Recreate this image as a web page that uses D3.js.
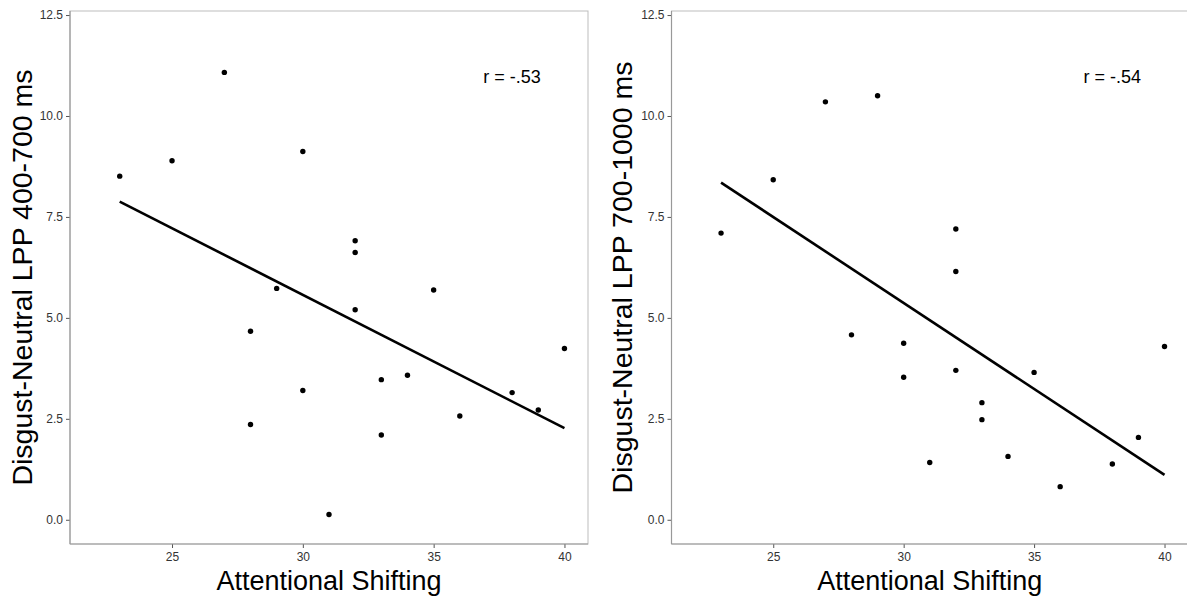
<!DOCTYPE html>
<html><head><meta charset="utf-8">
<script src="https://cdn.jsdelivr.net/npm/d3@7"></script>
<style>
html,body{margin:0;padding:0;background:#fff;}
text{font-family:"Liberation Sans",Arial,sans-serif;}
</style></head>
<body><svg id="chart" width="1187" height="599"></svg>
<script>
// ---- data ----
const xTicks = [25, 30, 35, 40];
const yTicks = [0, 2.5, 5, 7.5, 10, 12.5];
const xTitle = "Attentional Shifting";

const leftX = [23, 25, 27, 30, 29, 32, 32, 35, 32, 28, 28, 30, 33, 34, 33, 31, 36, 38, 39, 40];
const leftY = [8.51, 8.89, 11.08, 9.12, 5.73, 6.91, 6.62, 5.69, 5.20, 4.67, 2.36, 3.20, 3.47, 3.58, 2.10, 0.13, 2.57, 3.15, 2.72, 4.24];
const leftFitX = [23, 40];
const leftFitY = [7.88, 2.27];
const leftTitle = "Disgust-Neutral LPP 400-700 ms";
const leftLabel = "r = -.53";

const rightX = [23, 25, 27, 29, 28, 32, 32, 30, 30, 32, 35, 33, 33, 31, 34, 36, 38, 39, 40];
const rightY = [7.10, 8.42, 10.35, 10.50, 4.58, 7.20, 6.15, 4.37, 3.53, 3.70, 3.65, 2.90, 2.48, 1.42, 1.57, 0.82, 1.38, 2.04, 4.29];
const rightFitX = [23, 40];
const rightFitY = [8.35, 1.11];
const rightTitle = "Disgust-Neutral LPP 700-1000 ms";
const rightLabel = "r = -.54";

const xDomain = [21.1, 40.9];
const yDomain = [-0.6, 12.6];
const labelPos = [38, 10.97];

// ---- drawing ----
const svg = d3.select("#chart");

function panel(cfg) {
  const {left, right, top, bottom} = cfg;
  const x = d3.scaleLinear().domain(xDomain).range([left, right]);
  const y = d3.scaleLinear().domain(yDomain).range([bottom, top]);
  const g = svg.append("g");

  // panel border (top/right lighter)
  g.append("rect").attr("x", left).attr("y", top)
    .attr("width", right - left).attr("height", bottom - top)
    .attr("fill", "none").attr("stroke", "#bdbdbd").attr("stroke-width", 1);

  // axes
  const ax = g.append("g").attr("transform", `translate(0,${bottom})`)
    .call(d3.axisBottom(x).tickValues(xTicks).tickFormat(d3.format("d")).tickSize(4).tickPadding(4));
  const ay = g.append("g").attr("transform", `translate(${left},0)`)
    .call(d3.axisLeft(y).tickValues(yTicks).tickFormat(d3.format(".1f")).tickSize(4).tickPadding(3));
  [ax, ay].forEach(a => {
    a.select(".domain").remove();
    a.selectAll(".tick line").attr("stroke", "#555");
    a.selectAll(".tick text").attr("fill", "#333").style("font-size", "12px")
      .style("font-family", '"Liberation Sans",Arial,sans-serif');
  });
  // axis lines
  g.append("line").attr("x1", left).attr("x2", left).attr("y1", top).attr("y2", bottom)
    .attr("stroke", "#999").attr("stroke-width", 1.2);
  g.append("line").attr("x1", left).attr("x2", right).attr("y1", bottom).attr("y2", bottom)
    .attr("stroke", "#999").attr("stroke-width", 1.2);

  // fit line
  const line = d3.line().x(d => x(d[0])).y(d => y(d[1]));
  g.append("path").datum(cfg.fx.map((v, i) => [v, cfg.fy[i]]))
    .attr("d", line).attr("fill", "none").attr("stroke", "#000").attr("stroke-width", 2.6);

  // points
  g.selectAll("circle.pt").data(cfg.px.map((v, i) => [v, cfg.py[i]])).enter()
    .append("circle").attr("class", "pt")
    .attr("cx", d => x(d[0])).attr("cy", d => y(d[1])).attr("r", 2.7).attr("fill", "#000");

  // annotation
  g.append("text").attr("x", x(labelPos[0])).attr("y", y(labelPos[1]))
    .attr("text-anchor", "middle").attr("dominant-baseline", "central")
    .style("font-size", "18px").attr("fill", "#000").text(cfg.label);

  // titles
  g.append("text").attr("x", (left + right) / 2).attr("y", 590)
    .attr("text-anchor", "middle").style("font-size", "27px").attr("fill", "#000").text(xTitle);
  g.append("text").attr("transform", `translate(${cfg.ytx},${(top + bottom) / 2}) rotate(-90)`)
    .attr("text-anchor", "middle").style("font-size", "28.5px").attr("fill", "#000").text(cfg.ytitle);
}

panel({left: 70, right: 588, top: 11, bottom: 544, px: leftX, py: leftY,
  fx: leftFitX, fy: leftFitY, label: leftLabel, ytitle: leftTitle, ytx: 31.5});
panel({left: 671.5, right: 1188, top: 11, bottom: 544, px: rightX, py: rightY,
  fx: rightFitX, fy: rightFitY, label: rightLabel, ytitle: rightTitle, ytx: 632});
</script></body></html>
